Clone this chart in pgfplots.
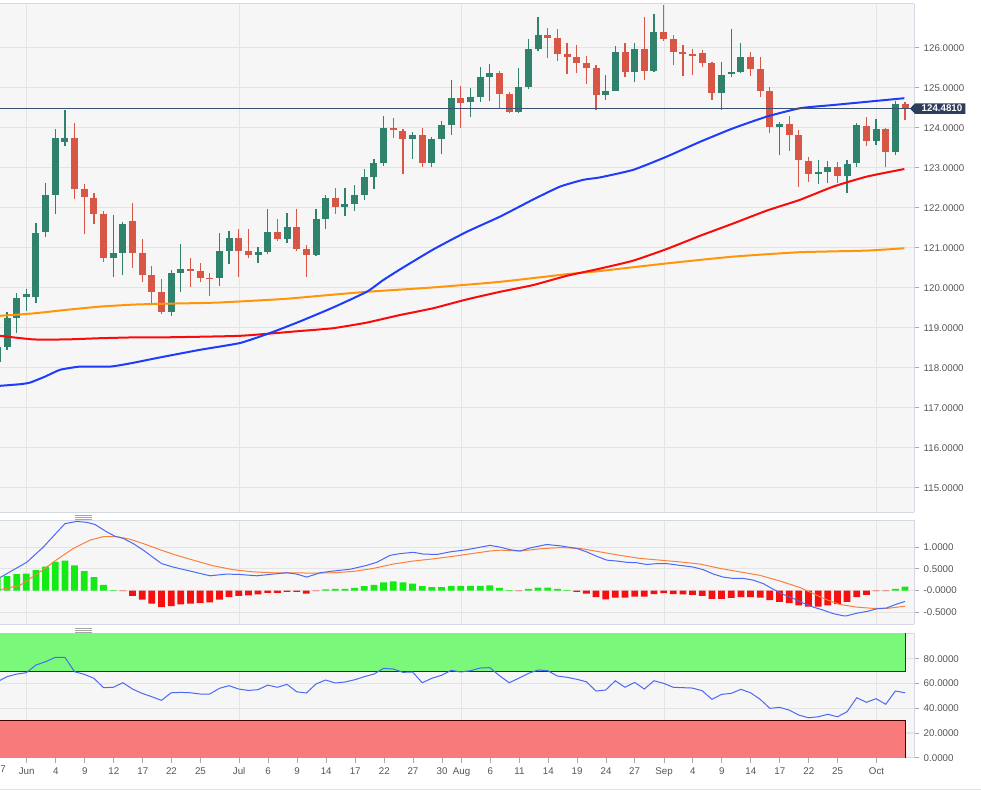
\documentclass[border=0pt]{standalone}
\usepackage{pgfplots}
\pgfplotsset{compat=1.18}
\usepackage{pgfplotstable}
\usepackage{fontspec}
\setmainfont{Liberation Sans}

\definecolor{upc}{RGB}{49,130,108}
\definecolor{dnc}{RGB}{216,86,70}
\definecolor{ma1}{RGB}{30,60,250}
\definecolor{ma2}{RGB}{250,10,10}
\definecolor{ma3}{RGB}{255,150,10}
\definecolor{pline}{RGB}{60,80,115}
\definecolor{tagc}{RGB}{45,62,92}
\definecolor{bgc}{RGB}{246,246,246}
\definecolor{gridc}{RGB}{228,228,228}
\definecolor{framec}{RGB}{212,216,226}
\definecolor{macdb}{RGB}{75,105,245}
\definecolor{macdo}{RGB}{250,130,60}
\definecolor{hgreen}{RGB}{20,235,20}
\definecolor{hred}{RGB}{245,15,15}
\definecolor{obg}{RGB}{122,248,122}
\definecolor{osr}{RGB}{248,122,122}
\definecolor{labc}{RGB}{85,85,85}

\pgfplotstableread{
i o h l c
-1 118.15 118.60 118.05 118.53
0 118.53 119.40 118.45 119.24
1 119.24 119.88 118.86 119.74
2 119.76 119.96 119.42 119.84
3 119.78 121.63 119.63 121.38
4 121.39 122.61 121.26 122.32
5 122.33 123.96 121.85 123.74
6 123.65 124.45 123.55 123.74
11 120.74 121.81 120.26 120.86
12 120.87 121.65 120.31 121.60
17 119.39 120.45 119.30 120.36
18 120.36 121.09 119.89 120.46
22 120.24 121.36 120.05 120.93
23 120.93 121.43 120.59 121.24
26 120.83 121.03 120.61 120.90
27 120.90 121.96 120.85 121.39
29 121.21 121.88 121.13 121.51
32 120.82 121.96 120.80 121.71
33 121.71 122.32 121.46 122.24
35 122.03 122.50 121.80 122.09
36 122.09 122.57 121.92 122.32
37 122.32 122.97 122.19 122.78
38 122.78 123.21 122.46 123.11
39 123.11 124.30 123.05 123.99
42 123.71 123.89 123.22 123.83
44 123.13 123.78 123.03 123.71
45 123.71 124.18 123.34 124.07
46 124.07 125.20 123.82 124.74
48 124.64 125.00 124.26 124.77
49 124.78 125.51 124.65 125.26
50 125.28 125.59 124.67 125.36
53 124.39 125.49 124.36 125.01
54 125.03 126.21 124.96 125.97
55 125.97 126.76 125.93 126.32
62 124.81 125.32 124.70 124.92
63 124.93 126.05 124.93 125.90
65 125.40 126.11 125.15 125.96
67 125.42 126.84 125.40 126.40
74 124.88 125.65 124.45 125.32
75 125.35 126.46 125.28 125.40
76 125.40 126.13 125.38 125.76
80 124.01 124.15 123.32 124.10
84 122.85 123.20 122.60 122.90
85 122.89 123.16 122.61 123.03
87 122.80 123.20 122.36 123.10
88 123.11 124.13 123.01 124.07
90 123.67 124.21 123.57 123.96
92 123.40 124.68 123.32 124.59
}\uptab

\pgfplotstableread{
i o h l c
7 123.74 124.13 122.21 122.46
8 122.46 122.60 121.34 122.26
9 122.25 122.36 121.59 121.85
10 121.84 121.92 120.65 120.74
13 121.66 122.11 120.49 120.87
14 120.87 121.21 120.14 120.31
15 120.31 120.55 119.61 119.89
16 119.89 120.21 119.35 119.39
19 120.46 120.75 120.03 120.43
20 120.43 120.61 120.14 120.25
21 120.25 120.36 119.80 120.22
24 121.24 121.47 120.27 120.91
25 120.91 121.46 120.75 120.83
28 121.39 121.71 121.18 121.21
30 121.51 121.96 120.91 120.97
31 120.97 121.07 120.28 120.82
34 122.24 122.50 121.84 122.03
40 123.99 124.24 123.74 123.94
41 123.93 123.96 122.85 123.71
43 123.83 123.99 123.03 123.13
47 124.74 125.05 123.99 124.63
51 125.36 125.42 124.47 124.84
52 124.84 124.90 124.36 124.39
56 126.32 126.49 125.74 126.24
57 126.24 126.46 125.67 125.85
58 125.85 126.11 125.35 125.76
59 125.76 126.06 125.38 125.63
60 125.63 125.80 125.10 125.49
61 125.49 125.57 124.45 124.81
64 125.90 126.13 125.26 125.40
66 125.96 126.76 125.20 125.42
68 126.40 127.07 126.17 126.22
69 126.22 126.32 125.57 125.89
70 125.89 126.07 125.30 125.85
71 125.84 125.96 125.32 125.79
72 125.86 125.95 125.51 125.61
73 125.61 125.65 124.70 124.88
77 125.76 125.90 125.30 125.46
78 125.46 125.76 124.76 124.93
79 124.93 125.01 123.86 124.01
81 124.10 124.30 123.43 123.82
82 123.82 123.94 122.53 123.20
83 123.18 123.26 122.65 122.85
86 123.03 123.15 122.63 122.80
89 124.05 124.26 123.55 123.67
91 123.96 124.00 123.01 123.40
93 124.59 124.65 124.195 124.481
}\dntab

\pgfplotsset{
  panel/.style={
    scale only axis, width=685.5pt, xmin=-0.725, xmax=93.93,
    axis x line*=box, axis y line*=right,
    axis background/.style={fill=bgc},
    axis line style={draw=framec, line width=0.75pt},
    grid style={draw=gridc, line width=0.9pt},
    ymajorgrids,
    ytick pos=right, yticklabel pos=right,
    tick align=outside,
    major tick length=3.75pt,
    tick style={draw=labc!50, line width=0.6pt},
    tick label style={font=\fontsize{7.3}{8}\selectfont, text=labc},
    /pgf/number format/assume math mode=true,
  },
  monthgrid/.style={xtick={2.04,24.04,47.08,68.05,90.05}, xticklabels={}, xmajorgrids, xtick style={draw=none}},
}

\begin{document}
\begin{tikzpicture}
\useasboundingbox[fill=white] (0pt,0pt) rectangle (735.75pt,-592.5pt);

% ---------------- main price panel
\begin{axis}[panel, monthgrid, at={(0pt,-2.625pt)}, anchor=north west,
  height=381.375pt, ymin=114.395, ymax=127.1075,
  ytick={115,116,117,118,119,120,121,122,123,124,125,126},
  yticklabels={115.0000,116.0000,117.0000,118.0000,119.0000,120.0000,121.0000,122.0000,123.0000,124.0000,125.0000,126.0000}]
% wicks
\addplot[upc, line width=0.9pt, quiver={u=0, v={\thisrow{h}-\thisrow{l}}}] table[x=i, y=l] {\uptab};
\addplot[dnc, line width=0.9pt, quiver={u=0, v={\thisrow{h}-\thisrow{l}}}] table[x=i, y=l] {\dntab};
% bodies
\addplot[upc, line width=5.25pt, quiver={u=0, v={max(\thisrow{c}-\thisrow{o},0.03)}}] table[x=i, y=o] {\uptab};
\addplot[dnc, line width=5.25pt, quiver={u=0, v={max(\thisrow{o}-\thisrow{c},0.03)}}] table[x=i, y=c] {\dntab};
% moving averages
\addplot[ma3, line width=1.5pt, smooth, tension=0.3] coordinates {(-0.725,119.30) (2.73,119.36) (6.18,119.45) (9.63,119.53) (13.08,119.58) (15.85,119.60) (21.72,119.63) (28.62,119.72) (32.41,119.80) (37.25,119.90) (44.15,120.01) (51.06,120.15) (57.97,120.34) (61.41,120.42) (68.32,120.61) (75.22,120.78) (82.12,120.89) (89.03,120.93) (92.93,120.99)};
\addplot[ma2, line width=1.5pt, smooth, tension=0.3] coordinates {(-0.725,118.80) (2.73,118.71) (6.18,118.71) (9.63,118.74) (13.08,118.76) (15.85,118.76) (24.13,118.80) (30.34,118.92) (33.76,118.99) (37.25,119.13) (40.70,119.32) (44.15,119.49) (47.61,119.71) (51.06,119.90) (54.51,120.07) (57.97,120.30) (61.41,120.48) (64.86,120.68) (68.32,120.97) (71.77,121.30) (75.22,121.61) (78.68,121.93) (82.12,122.20) (85.57,122.53) (89.03,122.78) (92.93,122.97)};
\addplot[ma1, line width=1.5pt, smooth, tension=0.3] coordinates {(-0.725,117.55) (1.35,117.59) (2.38,117.63) (3.94,117.78) (5.49,117.95) (7.56,118.03) (10.67,118.03) (12.74,118.11) (15.85,118.26) (19.99,118.45) (24.13,118.62) (27.24,118.87) (30.34,119.16) (33.79,119.51) (37.25,119.90) (38.94,120.19) (40.70,120.46) (44.15,120.96) (47.61,121.40) (51.06,121.78) (54.51,122.21) (57.27,122.53) (59.68,122.70) (61.41,122.76) (64.86,122.95) (68.32,123.28) (71.77,123.65) (75.22,123.99) (78.68,124.28) (82.12,124.49) (85.57,124.57) (89.03,124.65) (92.93,124.74)};
% last price line
\addplot[pline, line width=0.75pt] coordinates {(-0.725,124.481) (93.93,124.481)};
\coordinate (tag) at (axis cs:93.93,124.481);
\end{axis}
\fill[tagc] ([xshift=-3pt]tag) -- ++(3.75pt,3.95pt) -- ++(37.75pt,0) -- ++(0,-7.9pt) -- ++(-37.75pt,0) -- cycle;
\node[text=white, font=\fontsize{7.3}{8}\selectfont\bfseries, inner sep=0pt] at ([xshift=21pt]tag) {124.4810};

% ---------------- MACD panel
\begin{axis}[panel, monthgrid, at={(0pt,-390pt)}, anchor=north west,
  height=78.2pt, ymin=-0.775, ymax=1.623,
  ytick={-0.5,0,0.5,1}, yticklabels={-0.5000,-0.0000,0.5000,1.0000}]
\addplot[ybar, bar width=0.7, bar shift=0pt, fill=hgreen, draw=none] coordinates {(-1,0.30) (0,0.33) (1,0.38) (2,0.39) (3,0.47) (4,0.55) (5,0.66) (6,0.69) (7,0.58) (8,0.45) (9,0.31) (10,0.13) (11,0.01) (33,0.03) (34,0.04) (35,0.04) (36,0.06) (37,0.10) (38,0.13) (39,0.19) (40,0.21) (41,0.19) (42,0.16) (43,0.10) (44,0.08) (45,0.08) (46,0.11) (47,0.11) (48,0.11) (49,0.11) (50,0.12) (51,0.06) (52,0.01) (54,0.04) (55,0.07) (56,0.07) (57,0.04) (58,0.01) (92,0.04) (93,0.09)};
\addplot[ybar, bar width=0.7, bar shift=0pt, fill=hred, draw=none] coordinates {(12,-0.01) (13,-0.12) (14,-0.21) (15,-0.30) (16,-0.38) (17,-0.36) (18,-0.32) (19,-0.30) (20,-0.29) (21,-0.27) (22,-0.21) (23,-0.15) (24,-0.12) (25,-0.11) (26,-0.09) (27,-0.05) (28,-0.05) (29,-0.03) (30,-0.03) (31,-0.07) (32,-0.01) (53,-0.01) (59,-0.03) (60,-0.07) (61,-0.15) (62,-0.20) (63,-0.16) (64,-0.16) (65,-0.14) (66,-0.14) (67,-0.08) (68,-0.06) (69,-0.08) (70,-0.09) (71,-0.10) (72,-0.12) (73,-0.19) (74,-0.19) (75,-0.17) (76,-0.15) (77,-0.15) (78,-0.16) (79,-0.22) (80,-0.26) (81,-0.29) (82,-0.34) (83,-0.37) (84,-0.37) (85,-0.34) (86,-0.31) (87,-0.26) (88,-0.15) (89,-0.10) (90,-0.01) (91,-0.01)};
\addplot[macdo, line width=0.75pt] coordinates {(-0.725,0.02) (1.35,0.12) (3.42,0.43) (5.15,0.71) (6.87,0.97) (8.60,1.16) (9.97,1.24) (11.36,1.24) (12.74,1.18) (14.12,1.08) (15.85,0.94) (17.57,0.81) (19.29,0.70) (21.37,0.57) (23.44,0.48) (25.51,0.43) (27.58,0.41) (29.65,0.41) (31.72,0.40) (33.79,0.41) (35.86,0.44) (37.93,0.51) (40.0,0.61) (42.08,0.68) (44.15,0.73) (46.57,0.80) (50.02,0.91) (51.06,0.93) (53.13,0.91) (55.20,0.96) (57.27,0.99) (59.34,0.97) (61.41,0.89) (63.49,0.81) (65.56,0.74) (67.63,0.70) (69.70,0.66) (71.77,0.61) (73.84,0.51) (75.91,0.43) (77.98,0.35) (80.05,0.22) (82.12,0.07) (83.50,-0.07) (84.88,-0.21) (86.27,-0.32) (87.99,-0.38) (89.72,-0.41) (91.10,-0.41) (93.0,-0.36)};
\addplot[macdb, line width=0.75pt] coordinates {(-0.725,0.30) (2.04,0.65) (3.76,1.00) (5.04,1.31) (6.01,1.54) (7.22,1.59) (8.25,1.57) (9.11,1.52) (10.33,1.35) (11.18,1.25) (12.04,1.20) (13.08,1.08) (14.12,0.93) (15.15,0.76) (16.02,0.62) (17.22,0.54) (18.95,0.45) (21.02,0.34) (22.75,0.38) (24.13,0.37) (25.86,0.34) (27.58,0.38) (28.97,0.41) (30.0,0.38) (31.04,0.31) (32.42,0.41) (33.79,0.45) (35.52,0.49) (37.25,0.58) (38.29,0.65) (39.66,0.81) (40.70,0.85) (42.08,0.88) (43.11,0.84) (44.50,0.83) (45.88,0.89) (47.61,0.94) (50.02,1.04) (51.06,1.00) (52.09,0.94) (53.13,0.91) (54.16,0.98) (55.89,1.06) (57.27,1.03) (59.0,0.97) (60.03,0.89) (61.07,0.79) (62.11,0.70) (63.14,0.68) (64.18,0.65) (65.21,0.64) (66.25,0.60) (67.29,0.62) (68.32,0.62) (69.70,0.58) (71.08,0.54) (72.11,0.48) (73.15,0.38) (74.18,0.31) (75.22,0.28) (76.26,0.28) (77.29,0.24) (78.32,0.16) (79.36,0.03) (80.40,-0.09) (81.43,-0.18) (82.47,-0.29) (83.50,-0.38) (84.54,-0.45) (85.57,-0.53) (86.61,-0.58) (86.96,-0.58) (87.99,-0.52) (89.03,-0.48) (90.07,-0.42) (91.10,-0.40) (92.14,-0.31) (93.0,-0.25)};
\end{axis}

% ---------------- RSI panel
\begin{axis}[panel, at={(0pt,-475pt)}, anchor=north west,
  height=93.3pt, ymin=0, ymax=100.5,
  ytick={0,20,40,60,80}, yticklabels={0.0000,20.0000,40.0000,60.0000,80.0000},
  xtick pos=bottom, major tick length=3.75pt,
  xtick={2.04,5.05,8.05,11.06,14.06,17.03,20.03,24.04,27.05,30.05,33.06,36.06,39.07,42.04,45.05,47.08,50.05,53.06,56.06,59.04,62.04,65.0,68.05,71.02,74.02,77.03,80.03,83.04,86.01,90.05},
  xticklabels={Jun,4,9,12,17,22,25,Jul,6,9,14,17,22,27,30,Aug,6,11,14,19,24,27,Sep,4,9,14,17,22,25,Oct},
  extra x ticks={2.04,24.04,47.08,68.05,90.05}, extra x tick labels={},
  extra x tick style={grid=major, major tick length=0pt}]
\addplot[fill=obg, draw=none] coordinates {(-0.725,70) (93,70) (93,100.5) (-0.725,100.5)};
\addplot[fill=osr, draw=none] coordinates {(-0.725,0) (93,0) (93,30) (-0.725,30)};
\addplot[black!70!green, line width=0.6pt] coordinates {(-0.725,70) (93,70) (93,100.5)};
\addplot[black!75!red, line width=0.6pt] coordinates {(-0.725,30) (93,30) (93,0)};
\addplot[macdb, line width=0.75pt] coordinates {(-1,61.4) (0,65.5) (1,67.6) (2,68.7) (3,74.9) (4,77.6) (5,81.1) (6,81.1) (7,69.5) (8,67.4) (9,64.2) (10,56.6) (11,56.9) (12,60.6) (13,55.5) (14,52.0) (15,49.3) (16,46.4) (17,52.5) (18,52.8) (19,52.5) (20,51.5) (21,51.5) (22,56.1) (23,58.2) (24,55.5) (25,54.4) (26,55.0) (27,58.7) (28,56.9) (29,59.3) (30,53.3) (31,52.3) (32,59.6) (33,62.8) (34,60.4) (35,61.2) (36,63.0) (37,65.5) (38,67.6) (39,72.2) (40,71.7) (41,69.0) (42,69.3) (43,60.6) (44,64.2) (45,66.6) (46,70.6) (47,69.3) (48,70.3) (49,72.5) (50,72.8) (51,66.3) (52,60.6) (53,64.2) (54,68.2) (55,70.9) (56,70.3) (57,66.0) (58,65.0) (59,63.4) (60,61.4) (61,53.9) (62,54.7) (63,62.2) (64,56.9) (65,60.9) (66,55.5) (67,62.2) (68,60.1) (69,56.9) (70,56.6) (71,56.3) (72,54.1) (73,47.2) (74,51.2) (75,52.0) (76,55.3) (77,52.5) (78,47.2) (79,39.9) (80,40.7) (81,38.5) (82,34.5) (83,32.3) (84,33.1) (85,35.1) (86,33.1) (87,37.2) (88,48.5) (89,44.8) (90,47.7) (91,43.2) (92,53.9) (93,52.5)};
\end{axis}

% date label at the left edge (only its last digit shows in the reference)
\node[font=\fontsize{7.3}{8}\selectfont, text=labc, anchor=north west, inner xsep=0pt, inner ysep=2.4pt] at (0pt,-572.05pt) {7};

% panel grips
\foreach \yy in {-386.4,-387.9,-389.4} {\draw[black!35, line width=0.5pt] (56.5pt,\yy pt) -- (69pt,\yy pt);}
\foreach \yy in {-471.2,-472.7,-474.2} {\draw[black!35, line width=0.5pt] (56.5pt,\yy pt) -- (69pt,\yy pt);}
% bottom rule
\draw[black!12, line width=0.75pt] (0pt,-591.9pt) -- (735.75pt,-591.9pt);
\end{tikzpicture}
\end{document}
